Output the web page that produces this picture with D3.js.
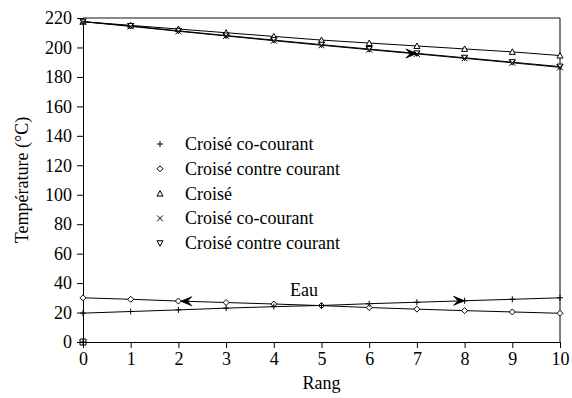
<!DOCTYPE html>
<html>
<head>
<meta charset="utf-8">
<script src="https://cdn.jsdelivr.net/npm/d3@7"></script>
</head>
<body style="margin:0;background:#fff">
<div id="chart"></div>
<script>
// Data
const rang = [0, 1, 2, 3, 4, 5, 6, 7, 8, 9, 10];
const yTicks = [0, 20, 40, 60, 80, 100, 120, 140, 160, 180, 200, 220];

// hot side
const chaudCroise       = [217.5, 215, 212.5, 210, 207.5, 205, 203, 201, 199, 197, 194.5];
const chaudCroiseCo     = [217.5, 214.3, 211, 207.8, 204.6, 201.5, 198.5, 195.6, 192.6, 189.6, 186.5];
const chaudCroiseContre = [217.5, 214.6, 211.3, 208.1, 205, 201.9, 198.9, 196, 193, 190, 187];

// water side (Eau)
const eauCoCourant     = [19.6, 20.7, 21.8, 23, 24, 24.8, 26, 27, 28, 29, 30];
const eauContreCourant = [30, 29, 27.8, 26.8, 25.8, 24.7, 23.4, 22.3, 21.3, 20.4, 19.5];
const eauCroise        = [0];

const legendLabels = ["Croisé co-courant", "Croisé contre courant", "Croisé", "Croisé co-courant", "Croisé contre courant"];
const legendSymbols = ["plus", "diamond", "up", "cross", "down"];

// arrows showing flow direction: [rang, value, direction]
const arrows = [[7, 195.9, 1], [2.05, 27.7, -1], [8, 28, 1]];

const FONT = "Liberation Serif";
const svg = d3.select("#chart").append("svg")
  .attr("width", 572).attr("height", 398)
  .attr("font-family", FONT);

const x = d3.scaleLinear().domain([0, 10]).range([83, 560]);
const y = d3.scaleLinear().domain([0, 220]).range([342, 18]);

// frame: top grey, right black
svg.append("line").attr("x1", x(0)).attr("x2", x(10)).attr("y1", y(220)).attr("y2", y(220))
  .attr("stroke", "#888").attr("stroke-width", 2);
svg.append("line").attr("x1", x(10)).attr("x2", x(10)).attr("y1", y(220)).attr("y2", y(0))
  .attr("stroke", "#000").attr("stroke-width", 1);

// axes
const xAxis = svg.append("g").attr("transform", `translate(0,${y(0)})`)
  .call(d3.axisBottom(x).tickValues(rang).tickSize(6).tickPadding(4).tickFormat(d3.format("d")));
const yAxis = svg.append("g").attr("transform", `translate(${x(0)},0)`)
  .call(d3.axisLeft(y).tickValues(yTicks).tickSize(6).tickPadding(5));
[xAxis, yAxis].forEach(a => {
  a.attr("font-family", FONT).attr("font-size", 18);
  a.select(".domain").attr("stroke", "#000");
  a.selectAll(".tick line").attr("stroke", "#000");
  a.selectAll("text").attr("fill", "#000").attr("font-family", FONT).attr("font-size", 18);
});

// marker shapes
function marker(g, type, cx, cy) {
  const s = 3;
  let d;
  if (type === "plus") d = `M${cx - s},${cy}H${cx + s}M${cx},${cy - s}V${cy + s}`;
  else if (type === "cross") d = `M${cx - s},${cy - s}L${cx + s},${cy + s}M${cx - s},${cy + s}L${cx + s},${cy - s}`;
  else if (type === "diamond") d = `M${cx},${cy - s}L${cx + s},${cy}L${cx},${cy + s}L${cx - s},${cy}Z`;
  else if (type === "up") d = `M${cx},${cy - s}L${cx + s},${cy + s - 0.5}L${cx - s},${cy + s - 0.5}Z`;
  else if (type === "down") d = `M${cx},${cy + s}L${cx + s},${cy - s + 0.5}L${cx - s},${cy - s + 0.5}Z`;
  else d = `M${cx - s},${cy - s}H${cx + s}V${cy + s}H${cx - s}ZM${cx - s},${cy}H${cx + s}M${cx},${cy - s}V${cy + s}`;
  const filled = type === "diamond" || type === "up" || type === "down";
  g.append("path").attr("d", d).attr("stroke", "#000").attr("fill", filled ? "#fff" : "none");
}

const line = d3.line().x((d, i) => x(rang[i])).y(d => y(d));

const series = [
  { values: chaudCroise, sym: "up" },
  { values: chaudCroiseContre, sym: "down" },
  { values: chaudCroiseCo, sym: "cross" },
  { values: eauContreCourant, sym: "diamond" },
  { values: eauCoCourant, sym: "plus" }
];

series.forEach(s => {
  svg.append("path").datum(s.values)
    .attr("fill", "none").attr("stroke", "#000").attr("stroke-width", 1)
    .attr("d", line);
});
series.forEach(s => {
  const g = svg.append("g");
  s.values.forEach((v, i) => marker(g, s.sym, x(rang[i]), y(v)));
});
eauCroise.forEach((v, i) => marker(svg.append("g"), "square", x(rang[i]), y(v)));

// flow arrows
arrows.forEach(([r, v, dir]) => {
  const tx = x(r), ty = y(v);
  const L = 11 * dir, W = 4.5;
  svg.append("path")
    .attr("d", `M${tx},${ty}L${tx - L},${ty - W}L${tx - L * 0.6},${ty}L${tx - L},${ty + W}Z`)
    .attr("fill", "#000").attr("stroke", "#000").attr("stroke-width", 0.8);
});

// legend
const legend = svg.append("g");
legendLabels.forEach((lab, i) => {
  const ly = 150 + i * 24.8;
  marker(legend, legendSymbols[i], 160, ly - 6);
  legend.append("text").attr("x", 185).attr("y", ly)
    .attr("font-family", FONT).attr("font-size", 18).text(lab);
});

// Eau label
svg.append("text").attr("x", 304).attr("y", 296).attr("text-anchor", "middle")
  .attr("font-family", FONT).attr("font-size", 18).text("Eau");

// axis titles
svg.append("text").attr("x", x(5)).attr("y", 389).attr("text-anchor", "middle")
  .attr("font-family", FONT).attr("font-size", 18).text("Rang");
svg.append("text").attr("transform", `translate(28,${(y(0) + y(220)) / 2}) rotate(-90)`)
  .attr("text-anchor", "middle").attr("font-family", FONT).attr("font-size", 18)
  .text("Température (°C)");
</script>
</body>
</html>
